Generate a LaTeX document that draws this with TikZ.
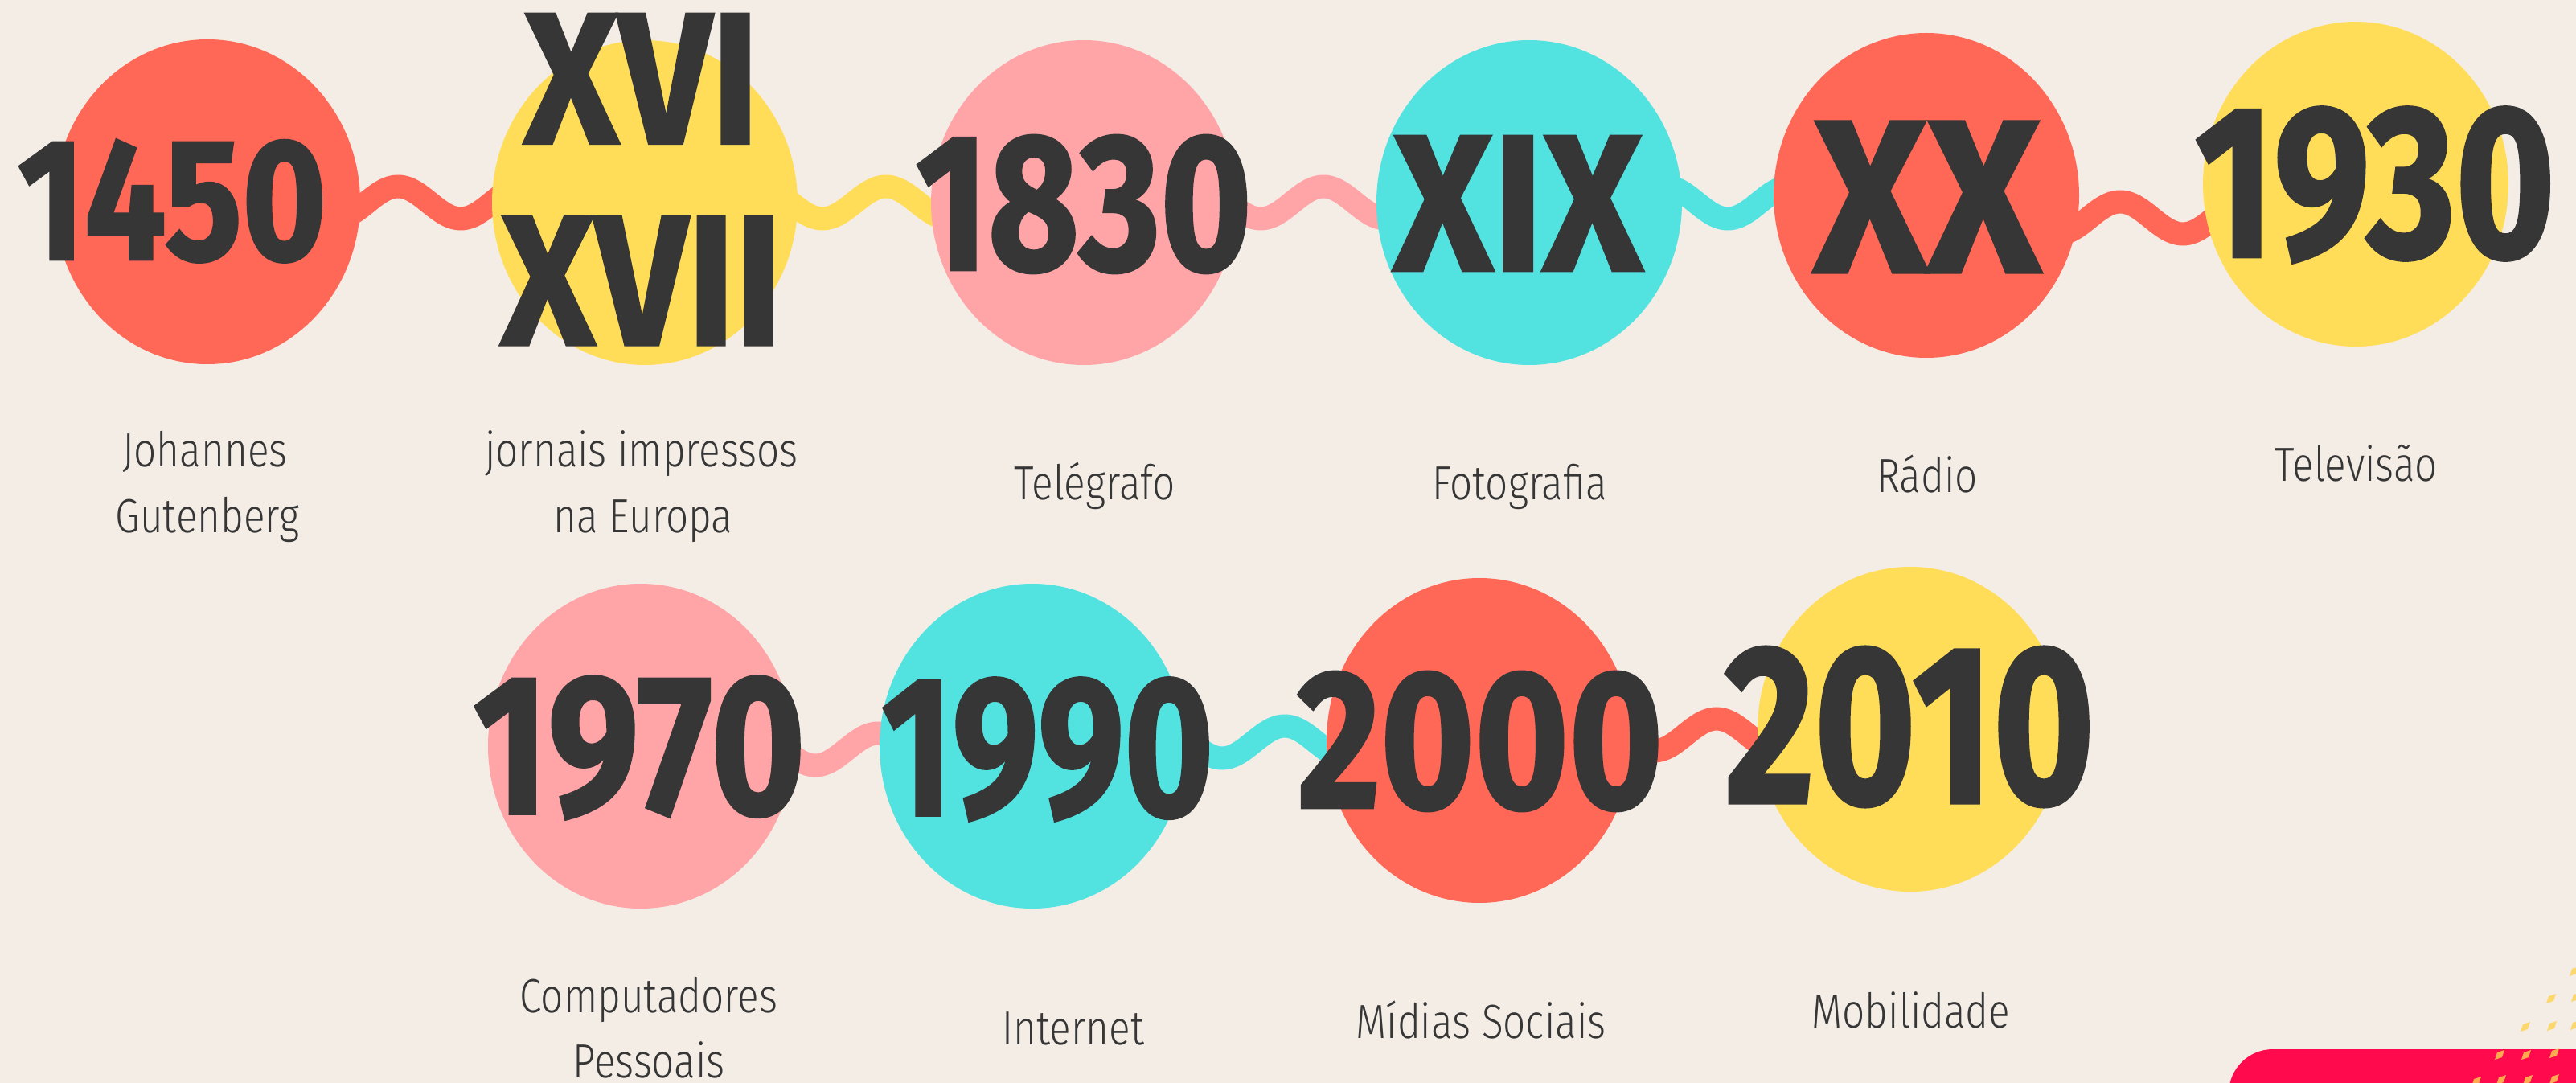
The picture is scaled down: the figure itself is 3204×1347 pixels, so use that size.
\documentclass[tikz,border=0pt]{standalone}
\usepackage{fontspec}
\usetikzlibrary{shapes.geometric}
\newfontfamily\numfont{Fira Sans}[BoldFeatures={FakeBold=1.5}]
\newfontfamily\labfont{Fira Sans Light}[FakeStretch=0.83]
\definecolor{bg}{HTML}{F4EDE6}
\definecolor{coral}{HTML}{FF6757}
\definecolor{sun}{HTML}{FFDD59}
\definecolor{rose}{HTML}{FFA5A8}
\definecolor{aqua}{HTML}{52E3E1}
\definecolor{ink}{HTML}{363636}
\definecolor{hotpink}{HTML}{FF0A4D}
\definecolor{dotcol}{HTML}{FFD24F}
\newcommand\numtxt[3]{\resizebox{#1pt}{#2pt}{\numfont\bfseries #3}}
\begin{document}
\begin{tikzpicture}[x=0.25pt, y=-0.25pt,
  blob/.style={ellipse, minimum width=95pt, minimum height=101pt, inner sep=0pt, draw=none},
  num/.style={inner sep=0pt, text=ink},
  lab/.style={font=\labfont\fontsize{14.9}{18}\selectfont, text=ink, anchor=base, inner sep=0pt},
  wave/.style={line width=7.25pt, line cap=round},
  dotfill/.style={fill=dotcol, opacity=0.8}]
\fill[bg] (0,0) rectangle (3204,1347);
\useasboundingbox (0,0) rectangle (3204,1347);

% corner decoration
\fill[hotpink, rounded corners=13.75pt] (2772,1420) -- (2772,1305) -- (3260,1305) -- (3260,1420) -- cycle;
\foreach \x/\y in {3202/1208, 3173/1242, 3204/1240, 3141/1277, 3174/1276, 3203/1275,
  3109/1312, 3142/1312, 3177/1310, 3080/1345, 3111/1343, 3144/1343, 3177/1342}
  \fill[dotfill] (\x,\y) ++(-6,6) -- ++(3,-9) -- ++(9,-3) -- ++(-3,9) -- cycle;

% wavy connectors (behind the circles)
\draw[wave, coral] plot[domain=430:640, samples=70, smooth] (\x, {252-20*cos(((\x-495)/156)*360)});
\draw[wave, sun]   plot[domain=970:1180, samples=70, smooth] (\x, {252-20*cos(((\x-1102)/158)*360)});
\draw[wave, rose]  plot[domain=1520:1730, samples=70, smooth] (\x, {252-20*cos(((\x-1646)/156)*360)});
\draw[wave, aqua]  plot[domain=2060:2240, samples=70, smooth] (\x, {252+20*cos(((\x-2149)/156)*360)});
\draw[wave, coral] plot[domain=2560:2770, samples=70, smooth] (\x, {271-20*cos(((\x-2637)/156)*360)});
\draw[wave, rose]  plot[domain=960:1120, samples=70, smooth] (\x, {932+20*cos(((\x-1014)/156)*360)});
\draw[wave, aqua]  plot[domain=1460:1680, samples=70, smooth] (\x, {923-20*cos(((\x-1598)/156)*360)});
\draw[wave, coral] plot[domain=2010:2210, samples=70, smooth] (\x, {914-20*cos(((\x-2135)/156)*360)});

% circles
\node[blob, fill=coral] (c1) at (258,251) {};
\node[blob, fill=sun]   (c2) at (802,252) {};
\node[blob, fill=rose]  (c3) at (1348,252) {};
\node[blob, fill=aqua]  (c4) at (1902,252) {};
\node[blob, fill=coral] (c5) at (2396,243) {};
\node[blob, fill=sun]   (c6) at (2930,229) {};
\node[blob, fill=rose]  (c7) at (797,928) {};
\node[blob, fill=aqua]  (c8) at (1284,928) {};
\node[blob, fill=coral] (c9) at (1840,921) {};
\node[blob, fill=sun]   (c10) at (2376,907) {};

% big numbers
\node[num] (n1) at (214,250) {\numtxt{96}{37.25}{1450}};
\node[num] (n2a) at (798,98) {\numtxt{73}{40.25}{XVI}};
\node[num] (n2b) at (798,349) {\numtxt{87.5}{40}{XVII}};
\node[num] (n3) at (1348,254) {\numtxt{104.5}{41.75}{1830}};
\node[num] (n4) at (1888,253) {\numtxt{77.5}{41.75}{XIX}};
\node[num] (n5) at (2397,245) {\numtxt{70.5}{46.75}{XX}};
\node[num] (n6) at (2954,230) {\numtxt{112}{46.5}{1930}};
\node[num] (n7) at (795,930) {\numtxt{103.25}{42.75}{1970}};
\node[num] (n8) at (1303,932) {\numtxt{103.25}{42.75}{1990}};
\node[num] (n9) at (1841,922) {\numtxt{113.75}{42.25}{2000}};
\node[num] (n10) at (2375,904) {\numtxt{115}{48.5}{2010}};

% labels
\node[lab] (l1a) at (255,581) {Johannes};
\node[lab] (l1b) at (258,663) {Gutenberg};
\node[lab] (l2a) at (798,581) {jornais impressos};
\node[lab] (l2b) at (800,663) {na Europa};
\node[lab] (l3) at (1362,622) {Telégrafo};
\node[lab] (l4) at (1890,622) {Fotografia};
\node[lab] (l5) at (2397,613) {Rádio};
\node[lab] (l6) at (2931,599) {Televisão};
\node[lab] (l7a) at (807,1259) {Computadores};
\node[lab] (l7b) at (807,1340) {Pessoais};
\node[lab] (l8) at (1335,1299) {Internet};
\node[lab] (l9) at (1842,1291) {Mídias Sociais};
\node[lab] (l10) at (2377,1278) {Mobilidade};
\end{tikzpicture}
\end{document}
